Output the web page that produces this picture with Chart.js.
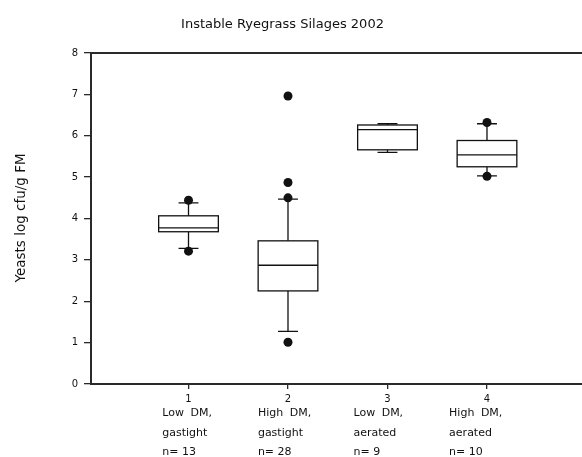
<!DOCTYPE html>
<html>
<head>
<meta charset="utf-8">
<script src="https://cdn.jsdelivr.net/npm/chart.js@4.4.1/dist/chart.umd.min.js"></script>
<style>
  html, body { margin: 0; padding: 0; background: #fff; }
  #wrap { width: 582px; height: 457px; }
</style>
</head>
<body>
<div id="wrap"><canvas id="c" width="582" height="457"></canvas></div>
<script>
// Yeast counts (log cfu/g FM) per silage group
const groupIds = [1, 2, 3, 4];
const groupLabels = [
  ["Low DM,", "gastight", "n= 13"],
  ["High DM,", "gastight", "n= 28"],
  ["Low DM,", "aerated", "n= 9"],
  ["High DM,", "aerated", "n= 10"]
];
const whiskerLow  = [3.28, 1.27, 5.60, 5.03];
const q1          = [3.68, 2.25, 5.66, 5.25];
const median      = [3.775, 2.87, 6.15, 5.54];
const q3          = [4.065, 3.46, 6.26, 5.885];
const whiskerHigh = [4.38, 4.47, 6.29, 6.29];
const outliers = [
  [3.21, 4.44],
  [1.01, 4.50, 4.87, 6.96],
  [],
  [5.02, 6.32]
];
const yTicks = [0, 1, 2, 3, 4, 5, 6, 7, 8];
const chartTitle = "Instable Ryegrass Silages 2002";
const yTitle = "Yeasts log cfu/g FM";

const INK = '#111';
const AXIS = '#2a2a2a';
const FONT = "'DejaVu Sans', 'Liberation Sans', sans-serif";

const outlierPoints = [];
outliers.forEach((vals, i) => vals.forEach(v => outlierPoints.push({ x: groupIds[i], y: v })));

// Boxes, whiskers and caps drawn through the chart's scales
const boxPlotPlugin = {
  id: 'boxPlot',
  beforeDatasetsDraw(chart) {
    const { ctx, scales: { x, y } } = chart;
    const boxHalf = 0.3, capHalf = 0.1;
    ctx.save();
    ctx.strokeStyle = INK;
    ctx.lineWidth = 1.3;
    groupIds.forEach((g, i) => {
      const cx = x.getPixelForValue(g);
      const bl = x.getPixelForValue(g - boxHalf), br = x.getPixelForValue(g + boxHalf);
      const cl = x.getPixelForValue(g - capHalf), cr = x.getPixelForValue(g + capHalf);
      const yLo = y.getPixelForValue(whiskerLow[i]);
      const yQ1 = y.getPixelForValue(q1[i]);
      const yMed = y.getPixelForValue(median[i]);
      const yQ3 = y.getPixelForValue(q3[i]);
      const yHi = y.getPixelForValue(whiskerHigh[i]);
      ctx.beginPath();
      // whiskers
      ctx.moveTo(cx, yQ1); ctx.lineTo(cx, yLo);
      ctx.moveTo(cx, yQ3); ctx.lineTo(cx, yHi);
      // caps
      ctx.moveTo(cl, yLo); ctx.lineTo(cr, yLo);
      ctx.moveTo(cl, yHi); ctx.lineTo(cr, yHi);
      ctx.stroke();
      // box
      ctx.fillStyle = '#fff';
      ctx.fillRect(bl, yQ3, br - bl, yQ1 - yQ3);
      ctx.strokeRect(bl, yQ3, br - bl, yQ1 - yQ3);
      // median
      ctx.beginPath();
      ctx.moveTo(bl, yMed); ctx.lineTo(br, yMed);
      ctx.stroke();
    });
    ctx.restore();
  }
};

// Title, axis title, top frame line and group descriptions
const textPlugin = {
  id: 'texts',
  afterDraw(chart) {
    const { ctx, chartArea: a } = chart;
    ctx.save();
    ctx.strokeStyle = AXIS;
    ctx.lineWidth = 2;
    ctx.beginPath();
    ctx.moveTo(a.left - 1, a.top);
    ctx.lineTo(a.right, a.top);
    ctx.stroke();

    ctx.fillStyle = INK;
    ctx.font = `13px ${FONT}`;
    ctx.textAlign = 'center';
    ctx.textBaseline = 'alphabetic';
    ctx.fillText(chartTitle, 282.5, 28);

    ctx.save();
    ctx.translate(21, 218);
    ctx.rotate(-Math.PI / 2);
    ctx.textBaseline = 'middle';
    ctx.font = `13.5px ${FONT}`;
    ctx.fillText(yTitle, 0, 0);
    ctx.restore();

    ctx.font = `11px ${FONT}`;
    ctx.textAlign = 'left';
    const left0 = 162.3, step = 95.6;
    const baselines = [416, 435.5, 455];
    groupLabels.forEach((lines, i) => {
      lines.forEach((t, k) => {
        ctx.wordSpacing = k === 0 ? '3px' : '0px';
        ctx.fillText(t, left0 + i * step, baselines[k]);
      });
    });
    ctx.restore();
  }
};

new Chart(document.getElementById('c'), {
  type: 'scatter',
  data: {
    datasets: [{
      data: outlierPoints,
      pointRadius: 4.5,
      pointHoverRadius: 4.5,
      pointStyle: 'circle',
      backgroundColor: INK,
      borderColor: INK,
      borderWidth: 0,
      clip: false
    }]
  },
  options: {
    responsive: false,
    devicePixelRatio: 1,
    animation: false,
    layout: { autoPadding: false, padding: { top: 53, left: 0, right: 0, bottom: 0 } },
    plugins: { legend: { display: false }, tooltip: { enabled: false }, title: { display: false } },
    scales: {
      x: {
        type: 'linear',
        min: 0.02,
        max: 4.955,
        afterBuildTicks: s => { s.ticks = groupIds.map(v => ({ value: v })); },
        afterFit: s => { s.height = 73; s.paddingLeft = 0; s.paddingRight = 0; },
        ticks: { color: INK, font: { family: FONT, size: 10 }, padding: 4, maxRotation: 0, autoSkip: false,
                 callback: v => String(v) },
        grid: { drawOnChartArea: false, drawTicks: true, tickLength: 5, color: AXIS, lineWidth: 1.3 },
        border: { display: true, color: AXIS, width: 2 }
      },
      y: {
        type: 'linear',
        min: 0,
        max: 8,
        afterBuildTicks: s => { s.ticks = yTicks.map(v => ({ value: v })); },
        afterFit: s => { s.width = 91; s.paddingTop = 0; s.paddingBottom = 0; },
        ticks: { color: INK, font: { family: FONT, size: 10 }, padding: 6, callback: v => String(v) },
        grid: { drawOnChartArea: false, drawTicks: true, tickLength: 7, color: AXIS, lineWidth: 1.3 },
        border: { display: true, color: AXIS, width: 2 }
      }
    }
  },
  plugins: [boxPlotPlugin, textPlugin]
});
</script>
</body>
</html>
